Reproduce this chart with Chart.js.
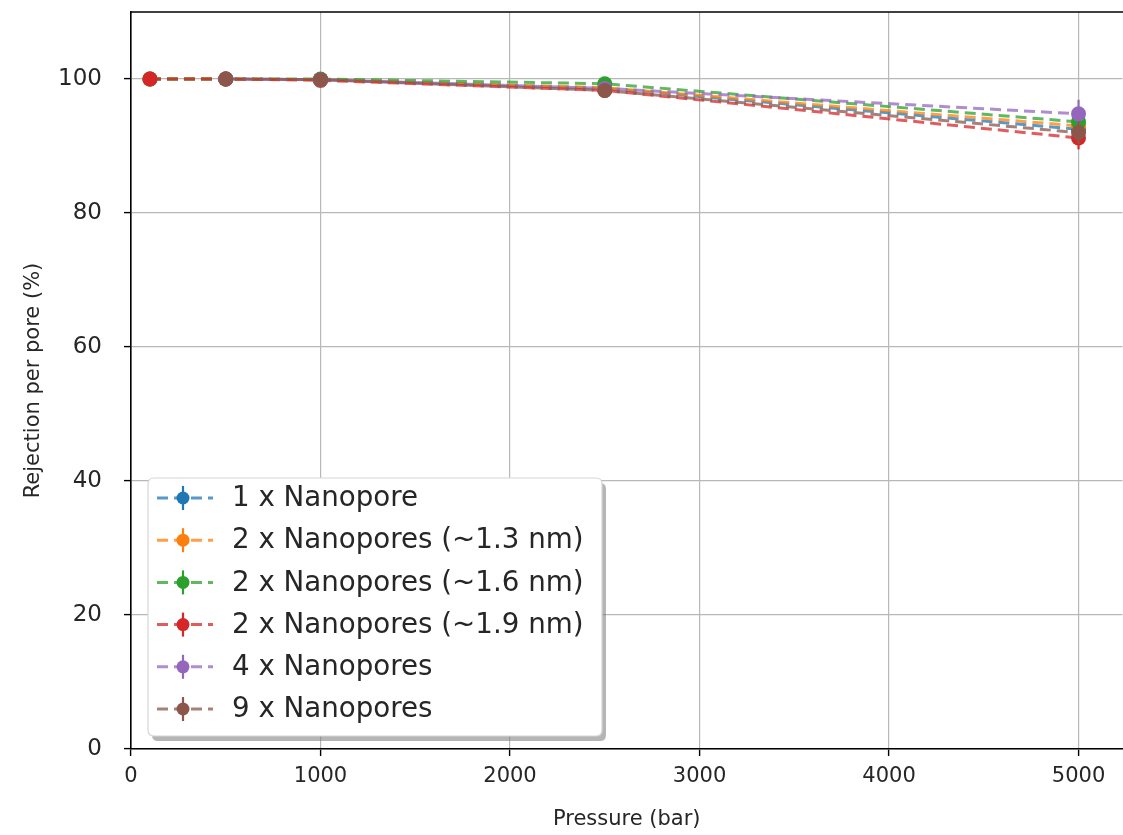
<!DOCTYPE html>
<html>
<head>
<meta charset="utf-8">
<script src="https://cdn.jsdelivr.net/npm/chart.js@4.4.1/dist/chart.umd.min.js"></script>
<style>
html,body{margin:0;padding:0;background:#fff;overflow:hidden;}
#wrap{width:1123px;height:835px;overflow:hidden;}
</style>
</head>
<body>
<div id="wrap"><canvas id="c" width="1130" height="835"></canvas></div>
<script>
const pressures = [100, 500, 1000, 2500, 5000];
const xTicks = [0, 1000, 2000, 3000, 4000, 5000];
const yTicks = [0, 20, 40, 60, 80, 100];
const seriesNames = ["1 x Nanopore", "2 x Nanopores (~1.3 nm)", "2 x Nanopores (~1.6 nm)", "2 x Nanopores (~1.9 nm)", "4 x Nanopores", "9 x Nanopores"];
const seriesColors = ["#1f77b4", "#ff7f0e", "#2ca02c", "#d62728", "#9467bd", "#8c564b"];
const onePore   = [100, 100, 99.9, 98.6, 92.5];
const twoPore13 = [100, 100, 99.9, 98.7, 93.0];
const twoPore16 = [100, 100, 100, 99.3, 93.6];
const twoPore19 = [100, 100, 99.8, 98.3, 91.2];
const fourPore  = [null, 100, 99.9, 98.6, 94.8];
const ninePore  = [null, 100, 99.9, 98.3, 92.0];
const onePoreErr   = [0.1, 0.1, 0.2, 0.4, 1.6];
const twoPore13Err = [0.1, 0.1, 0.2, 0.4, 1.6];
const twoPore16Err = [0.1, 0.1, 0.2, 0.4, 1.6];
const twoPore19Err = [0.1, 0.1, 0.2, 0.5, 1.7];
const fourPoreErr  = [0, 0.1, 0.2, 0.4, 2.1];
const ninePoreErr  = [0, 0.1, 0.2, 0.5, 1.7];

const allValues = [onePore, twoPore13, twoPore16, twoPore19, fourPore, ninePore];
const allErrs = [onePoreErr, twoPore13Err, twoPore16Err, twoPore19Err, fourPoreErr, ninePoreErr];

function withAlpha(hex, a){
  const r=parseInt(hex.slice(1,3),16), g=parseInt(hex.slice(3,5),16), b=parseInt(hex.slice(5,7),16);
  return `rgba(${r},${g},${b},${a})`;
}

const datasets = allValues.map((vals, i) => ({
  label: seriesNames[i],
  order: allValues.length - i,
  data: pressures.map((p, j) => vals[j] == null ? null : {x: p, y: vals[j]}).filter(d => d),
  errs: pressures.map((p, j) => vals[j] == null ? null : allErrs[i][j]).filter(d => d != null),
  borderColor: withAlpha(seriesColors[i], 0.75),
  backgroundColor: seriesColors[i],
  pointBackgroundColor: seriesColors[i],
  pointBorderColor: seriesColors[i],
  pointRadius: 7.5,
  pointBorderWidth: 0,
  borderWidth: 3,
  borderDash: [11, 6],
  tension: 0,
  fill: false,
  clip: false
}));

const FONT = "'DejaVu Sans', sans-serif";

const errorBars = {
  id: 'errorBars',
  beforeDatasetDraw(chart, args) {
    const ds = chart.data.datasets[args.index];
    const meta = args.meta;
    const ctx = chart.ctx;
    const ys = chart.scales.y;
    ctx.save();
    ctx.strokeStyle = ds.pointBackgroundColor;
    ctx.lineWidth = 2.2;
    meta.data.forEach((pt, k) => {
      const d = ds.data[k];
      const e = ds.errs[k];
      if (!e) return;
      ctx.beginPath();
      ctx.moveTo(pt.x, ys.getPixelForValue(d.y - e));
      ctx.lineTo(pt.x, ys.getPixelForValue(d.y + e));
      ctx.stroke();
    });
    ctx.restore();
  }
};

const frameAndLegend = {
  id: 'frameAndLegend',
  afterDraw(chart) {
    const ctx = chart.ctx;
    const a = chart.chartArea;
    ctx.save();
    ctx.strokeStyle = '#000';
    ctx.lineWidth = 1.6;
    ctx.beginPath();
    ctx.moveTo(a.left, a.top);
    ctx.lineTo(a.right + 2, a.top);
    ctx.stroke();

    const bx = 148, by = 478, bw = 454, bh = 258;
    const r = 6;
    function rr(x, y, w, h){
      ctx.beginPath();
      ctx.moveTo(x + r, y);
      ctx.lineTo(x + w - r, y);
      ctx.quadraticCurveTo(x + w, y, x + w, y + r);
      ctx.lineTo(x + w, y + h - r);
      ctx.quadraticCurveTo(x + w, y + h, x + w - r, y + h);
      ctx.lineTo(x + r, y + h);
      ctx.quadraticCurveTo(x, y + h, x, y + h - r);
      ctx.lineTo(x, y + r);
      ctx.quadraticCurveTo(x, y, x + r, y);
      ctx.closePath();
    }
    ctx.fillStyle = 'rgba(120,120,120,0.55)';
    rr(bx + 4, by + 5, bw, bh);
    ctx.fill();
    ctx.fillStyle = '#fff';
    rr(bx, by, bw, bh);
    ctx.fill();
    ctx.strokeStyle = '#d6d6d6';
    ctx.lineWidth = 1.2;
    ctx.stroke();

    chart.data.datasets.forEach((ds, i) => {
      const cy = 498 + i * 42.2;
      ctx.strokeStyle = ds.borderColor;
      ctx.lineWidth = 3;
      ctx.setLineDash([11, 6]);
      ctx.beginPath();
      ctx.moveTo(157, cy);
      ctx.lineTo(213, cy);
      ctx.stroke();
      ctx.setLineDash([]);
      ctx.strokeStyle = ds.pointBackgroundColor;
      ctx.lineWidth = 2.2;
      ctx.beginPath();
      ctx.moveTo(183, cy - 12);
      ctx.lineTo(183, cy + 12);
      ctx.stroke();
      ctx.fillStyle = ds.pointBackgroundColor;
      ctx.beginPath();
      ctx.arc(183, cy, 6.5, 0, Math.PI * 2);
      ctx.fill();
      ctx.fillStyle = '#262626';
      ctx.font = "27.7px " + FONT;
      ctx.textBaseline = 'middle';
      ctx.textAlign = 'left';
      ctx.fillText(ds.label, 232, cy + 1);
    });
    ctx.restore();
  }
};

new Chart(document.getElementById('c'), {
  type: 'line',
  data: { datasets },
  options: {
    responsive: false,
    animation: false,
    devicePixelRatio: 1,
    layout: { padding: { top: 12, right: 0, left: 0, bottom: 0 } },
    plugins: { legend: { display: false }, tooltip: { enabled: false }, title: { display: false } },
    scales: {
      x: {
        type: 'linear',
        min: 0,
        max: 5232,
        afterBuildTicks(scale) { scale.ticks = xTicks.map(v => ({ value: v })); },
        afterFit(scale) { scale.height = 86; scale.paddingLeft = 0; scale.paddingRight = 0; scale.paddingTop = 0; scale.paddingBottom = 0; },
        ticks: { color: '#262626', font: { family: FONT, size: 21 }, padding: 8, maxRotation: 0, includeBounds: false, callback: v => String(v) },
        grid: { color: '#b8b8b8', lineWidth: 1.2, tickLength: 7, tickColor: '#000', tickWidth: 1.4 },
        border: { color: '#000', width: 1.6 },
        title: { display: true, text: 'Pressure (bar)', color: '#262626', font: { family: FONT, size: 21 }, padding: { top: 2, bottom: 3 } }
      },
      y: {
        type: 'linear',
        min: 0,
        max: 110,
        afterBuildTicks(scale) { scale.ticks = yTicks.map(v => ({ value: v })); },
        afterFit(scale) { scale.width = 131; scale.paddingTop = 0; scale.paddingBottom = 0; scale.paddingLeft = 0; scale.paddingRight = 0; },
        ticks: { color: '#262626', font: { family: FONT, size: 23 }, padding: 22, callback: v => String(v) },
        grid: { color: '#b8b8b8', lineWidth: 1.2, tickLength: 7, tickColor: '#000', tickWidth: 1.4 },
        border: { color: '#000', width: 1.6 },
        title: { display: true, text: 'Rejection per pore (%)', color: '#262626', font: { family: FONT, size: 21 }, padding: { top: 21, bottom: 0 } }
      }
    }
  },
  plugins: [errorBars, frameAndLegend]
});
</script>
</body>
</html>
